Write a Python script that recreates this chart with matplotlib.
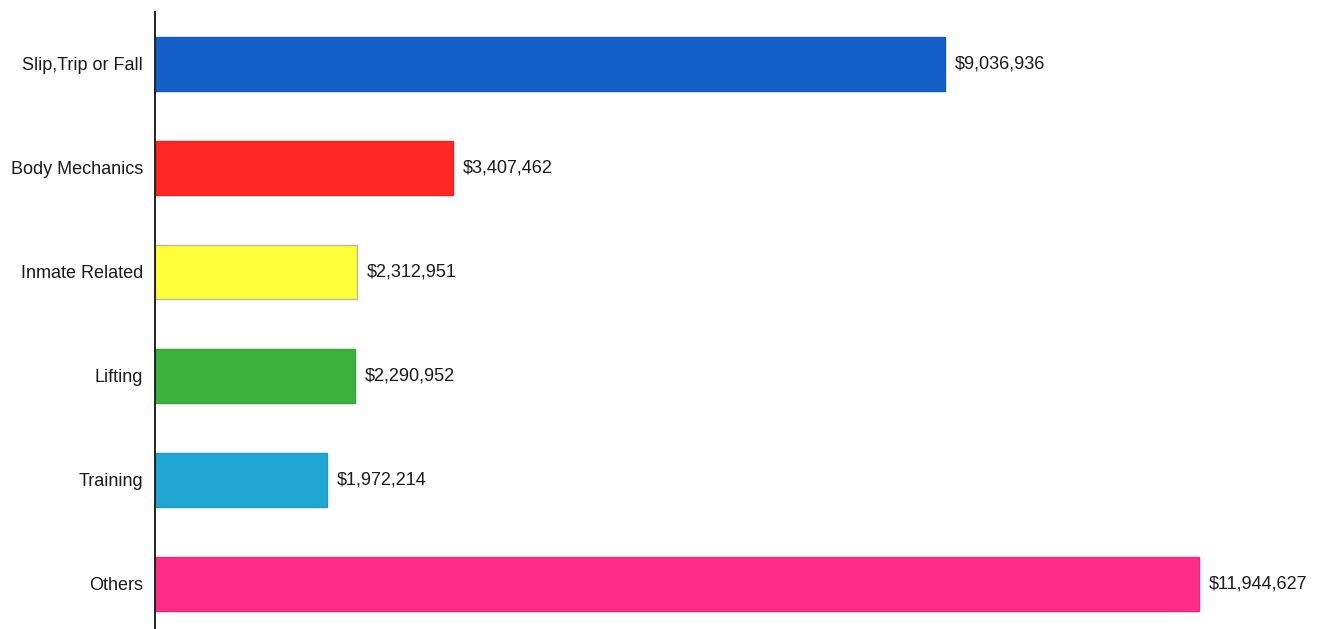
import matplotlib.pyplot as plt

plt.rcParams['font.family'] = ['Liberation Sans', 'DejaVu Sans']

categories = ["Slip,Trip or Fall", "Body Mechanics", "Inmate Related",
              "Lifting", "Training", "Others"]
costs = [9036936, 3407462, 2312951, 2290952, 1972214, 11944627]
bar_colors = ["#1660C9", "#FF2626", "#FFFF38", "#3BB23C", "#1FA6D2", "#FF2D87"]
edge_colors = ["#1458B8", "#E82222", "#B8B8A0", "#35A236", "#1C96BE", "#E8297A"]

W, H = 1323, 629
fig = plt.figure(figsize=(W / 100, H / 100), dpi=100)
# axes placed so the category bands line up with the plotting area
ax = fig.add_axes([155 / W, (H - 636) / H, (W - 155) / W, 624 / H])

pos = list(range(len(categories)))
ax.barh(pos, costs, height=0.51, color=bar_colors, edgecolor=edge_colors,
        linewidth=1.0)

ax.set_ylim(len(categories) - 0.5, -0.5)
ax.set_xlim(0, 13.36e6)
ax.set_yticks(pos)
ax.set_yticklabels(categories, fontsize=13, color="#1a1a1a")
ax.tick_params(axis="y", length=0, pad=8.5)
ax.set_xticks([])

for side in ("top", "right", "bottom"):
    ax.spines[side].set_visible(False)
ax.spines["left"].set_linewidth(1.4)
ax.spines["left"].set_color("#222222")

for y, v in zip(pos, costs):
    ax.annotate(f"${v:,.0f}", xy=(v, y), xytext=(7, 0),
                textcoords="offset points", va="center", ha="left",
                fontsize=13, color="#1a1a1a")

fig.savefig("out.png", dpi=100)
